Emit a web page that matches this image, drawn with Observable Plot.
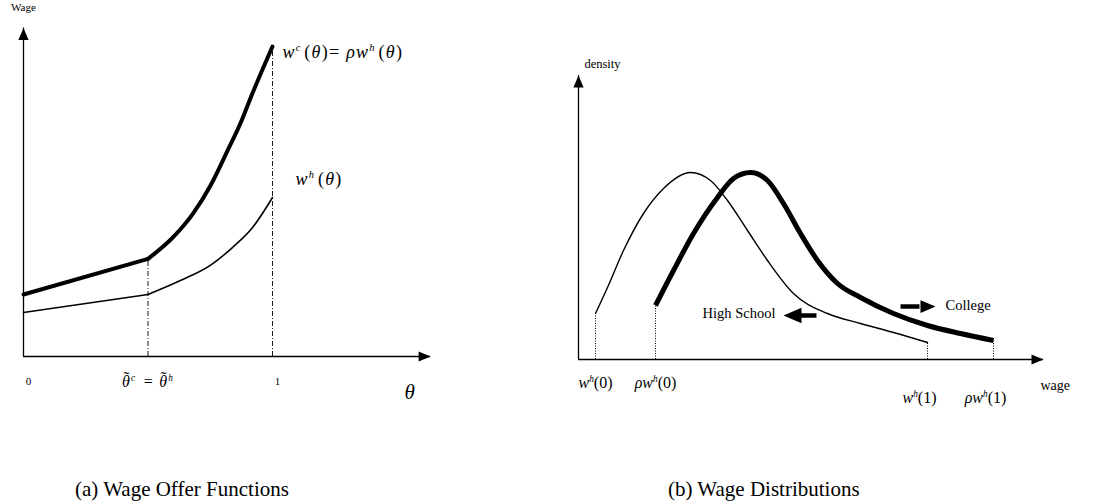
<!DOCTYPE html>
<html>
<head>
<meta charset="utf-8">
<script src="https://cdn.jsdelivr.net/npm/d3@7"></script>
<script src="https://cdn.jsdelivr.net/npm/@observablehq/plot@0.6"></script>
<style>
  body { margin: 0; background: #fff; }
  #fig { position: relative; width: 1107px; height: 504px; overflow: hidden; }
  #row { display: flex; }
  .cap { position: absolute; top: 479px; font-family: "Liberation Serif", serif; font-size: 21px; line-height: 1; color: #000; white-space: nowrap; }
</style>
</head>
<body>
<div id="fig">
  <div id="row"></div>
  <div class="cap" style="left:75px">(a) Wage Offer Functions</div>
  <div class="cap" style="left:668px">(b) Wage Distributions</div>
</div>
<script>
// ---------- Panel (a): wage offer functions over ability θ ----------
const thetaKink = 0.5;
const thetaCollege = [0, 0.5, 0.6, 0.68, 0.75, 0.82, 0.87, 0.92, 1.0];
const wageCollege  = [2.0, 3.15, 3.84, 4.6, 5.5, 6.65, 7.5, 8.5, 10.0];
const thetaHigh    = [0, 0.5, 0.63, 0.75, 0.84, 0.92, 1.0];
const wageHigh     = [1.42, 2.0, 2.45, 2.94, 3.52, 4.16, 5.13];
const thetaAxisEnd = 1.635;
const wageAxisTop  = 10.6;
const kinkLabel = "\u03b8\u0303^c = \u03b8\u0303^h";

// ---------- Panel (b): wage densities ----------
const wageHS = [0.85, 1.45, 2.25, 3.25, 4.25, 5.6, 6.6, 7.45, 8.45, 9.45, 10.75, 12.45, 14.1, 15.75, 17.45];
const densHS = [4.6, 7.2, 10.9, 14.6, 17.1, 18.7, 17.9, 15.9, 12.9, 9.9, 6.6, 4.6, 3.6, 2.7, 1.7];
const wageCol = [3.85, 4.75, 5.75, 6.95, 7.75, 8.6, 9.45, 10.25, 11.1, 11.95, 12.95, 14.1, 15.75, 17.45, 19.1, 20.75];
const densCol = [5.4, 8.9, 12.6, 16.2, 18.1, 18.7, 17.9, 15.6, 12.6, 9.9, 7.6, 6.2, 4.6, 3.4, 2.6, 1.9];
const wageAxisEnd = 23.25;
const densAxisTop = 28.4;
const endLabels = ["w^h(0)", "ρw^h(0)", "w^h(1)", "ρw^h(1)"];
const shiftLabels = ["High School", "College"];
const shiftLabelWage = [9.85, 18.35];
const shiftLabelDens = [4.6, 5.4];
const shiftArrowTail = [11.9, 16.1];
const shiftArrowTip  = [10.25, 17.85];
const shiftArrowDens = [4.4, 5.3];

// filled arrowhead, tip at the origin, pointing up
const arrowHead = {
  draw(ctx, size) {
    const r = Math.sqrt(size / Math.PI);
    ctx.moveTo(0, 0);
    ctx.lineTo(-0.85 * r, 2 * r);
    ctx.lineTo(0.85 * r, 2 * r);
    ctx.closePath();
  }
};

function segmentRows(xs, ys) {
  const rows = [];
  xs.forEach((t, i) => {
    if (t <= thetaKink) rows.push({theta: t, wage: ys[i], part: "lo"});
    if (t >= thetaKink) rows.push({theta: t, wage: ys[i], part: "hi"});
  });
  return rows;
}
const collegeRows = segmentRows(thetaCollege, wageCollege);
const highRows = segmentRows(thetaHigh, wageHigh);
const kinkRules = [
  {theta: thetaKink, wage: wageCollege[thetaCollege.indexOf(thetaKink)]},
  {theta: 1, wage: wageCollege[wageCollege.length - 1]}
];

const font = {fontFamily: "Liberation Serif", background: "white", color: "black"};
const math = {ariaDescription: "math"};
const mathWide = {ariaDescription: "math-wide"};

const left = Plot.plot({
  width: 550, height: 440, margin: 0,
  style: font,
  x: {domain: [0, 1], range: [23, 272], axis: null},
  y: {domain: [0, 10], range: [356, 46], axis: null},
  marks: [
    Plot.ruleX(kinkRules, {x: "theta", y1: 0, y2: "wage", strokeWidth: 0.9, strokeDasharray: "5,2,1,2"}),
    Plot.ruleY([0], {x1: 0, x2: thetaAxisEnd, strokeWidth: 1.3}),
    Plot.ruleX([0], {y1: 0, y2: wageAxisTop, strokeWidth: 1.3}),
    Plot.dot([{theta: thetaAxisEnd, wage: 0}], {x: "theta", y: "wage", symbol: arrowHead, r: 6, fill: "black", stroke: null, rotate: 90}),
    Plot.dot([{theta: 0, wage: wageAxisTop}], {x: "theta", y: "wage", symbol: arrowHead, r: 6, fill: "black", stroke: null, rotate: 0}),
    Plot.line(highRows, {x: "theta", y: "wage", z: "part", curve: "monotone-x", strokeWidth: 1.6}),
    Plot.line(collegeRows, {x: "theta", y: "wage", z: "part", curve: "monotone-x", strokeWidth: 4, strokeLinejoin: "round"}),
    Plot.text([{theta: 0, wage: wageAxisTop, label: "Wage"}], {x: "theta", y: "wage", text: "label", dy: -20, fontSize: 11}),
    Plot.text([{theta: 0, label: "0"}, {theta: 1, label: "1"}], {x: "theta", y: () => 0, text: "label", dx: 5, dy: 25, fontSize: 11}),
    Plot.text([{theta: thetaKink, label: kinkLabel}], {x: "theta", y: () => 0, text: "label", dy: 25, fontSize: 16, ...mathWide}),
    Plot.text([{theta: thetaAxisEnd, label: "θ"}], {x: "theta", y: () => 0, text: "label", dx: -21, dy: 36, fontSize: 21, fontStyle: "italic"}),
    Plot.text([{theta: 1, wage: wageCollege[wageCollege.length - 1], label: "w^c(θ)= ρw^h(θ)"}],
      {x: "theta", y: "wage", text: "label", textAnchor: "start", dx: 10, dy: 6, fontSize: 18, ...mathWide}),
    Plot.text([{theta: 1, wage: wageHigh[wageHigh.length - 1], label: "w^h(θ)"}],
      {x: "theta", y: "wage", text: "label", textAnchor: "start", dx: 23, dy: -18, fontSize: 18, ...mathWide})
  ]
});

const hsRows = wageHS.map((w, i) => ({wage: w, dens: densHS[i]}));
const colRows = wageCol.map((w, i) => ({wage: w, dens: densCol[i]}));
const ends = [
  {wage: wageHS[0], dens: densHS[0], label: endLabels[0], row: 0},
  {wage: wageCol[0], dens: densCol[0], label: endLabels[1], row: 0},
  {wage: wageHS[wageHS.length - 1], dens: densHS[densHS.length - 1], label: endLabels[2], row: 1},
  {wage: wageCol[wageCol.length - 1], dens: densCol[densCol.length - 1], label: endLabels[3], row: 1}
];
const pxPerWage = 20;
const headLen = 18;
const shifts = shiftLabels.map((label, i) => {
  const dir = Math.sign(shiftArrowTip[i] - shiftArrowTail[i]);
  return {
    label, lx: shiftLabelWage[i], ly: shiftLabelDens[i],
    tail: shiftArrowTail[i], tip: shiftArrowTip[i],
    shaftEnd: shiftArrowTip[i] - dir * (headLen - 2) / pxPerWage,
    y: shiftArrowDens[i], rot: dir > 0 ? 90 : -90
  };
});

const right = Plot.plot({
  width: 557, height: 440, margin: 0,
  style: font,
  x: {domain: [0, 20], range: [28, 428], axis: null},
  y: {domain: [0, 20], range: [359, 159], axis: null},
  marks: [
    Plot.ruleX(ends, {x: "wage", y1: 0, y2: "dens", strokeWidth: 1, strokeDasharray: "1,1.5"}),
    Plot.ruleY([0], {x1: 0, x2: wageAxisEnd, strokeWidth: 1.3}),
    Plot.ruleX([0], {y1: 0, y2: densAxisTop, strokeWidth: 1.3}),
    Plot.dot([{wage: wageAxisEnd, dens: 0}], {x: "wage", y: "dens", symbol: arrowHead, r: 6, fill: "black", stroke: null, rotate: 90}),
    Plot.dot([{wage: 0, dens: densAxisTop}], {x: "wage", y: "dens", symbol: arrowHead, r: 6, fill: "black", stroke: null, rotate: 0}),
    Plot.line(hsRows, {x: "wage", y: "dens", curve: "monotone-x", strokeWidth: 1.4}),
    Plot.line(colRows, {x: "wage", y: "dens", curve: "monotone-x", strokeWidth: 5, strokeLinecap: "butt"}),
    Plot.link(shifts, {x1: "tail", x2: "shaftEnd", y1: "y", y2: "y", strokeWidth: 4.5, strokeLinecap: "butt"}),
    Plot.dot(shifts.filter(d => d.rot < 0), {x: "tip", y: "y", symbol: arrowHead, r: 9, fill: "black", stroke: null, rotate: -90}),
    Plot.dot(shifts.filter(d => d.rot > 0), {x: "tip", y: "y", symbol: arrowHead, r: 7.5, fill: "black", stroke: null, rotate: 90}),
    Plot.text(shifts.slice(0, 1), {x: "lx", y: "ly", text: "label", textAnchor: "end", fontSize: 14.5}),
    Plot.text(shifts.slice(1), {x: "lx", y: "ly", text: "label", textAnchor: "start", fontSize: 14.5}),
    Plot.text([{wage: 0, dens: densAxisTop, label: "density"}], {x: "wage", y: "dens", text: "label", dx: 24, dy: -12, fontSize: 12.5}),
    Plot.text([{wage: wageAxisEnd, dens: 0, label: "wage"}], {x: "wage", y: "dens", text: "label", textAnchor: "start", dx: -3, dy: 26, fontSize: 14}),
    Plot.text(ends.filter(d => d.row === 0), {x: "wage", y: () => 0, text: "label", dy: 23, fontSize: 16, ...math}),
    Plot.text(ends.filter(d => d.row === 1), {x: "wage", y: () => 0, text: "label", dx: -8, dy: 38, fontSize: 16, ...math})
  ]
});

document.getElementById("row").append(left, right);

// set "^x" as a raised small glyph and italicise the math letters;
// a combining tilde becomes a spacing tilde laid back over the letter before it
function typeset(svg) {
  const NS = "http://www.w3.org/2000/svg";
  svg.querySelectorAll('g[aria-description^="math"] text').forEach(t => {
    const wide = t.parentNode.getAttribute("aria-description") === "math-wide";
    const src = Array.from(t.textContent);
    const fs = parseFloat(getComputedStyle(t).fontSize) || 16;
    const ls = wide ? fs * 0.07 : 0;
    t.textContent = "";
    if (wide) t.setAttribute("letter-spacing", ls.toFixed(2));
    const runs = [];
    for (let i = 0; i < src.length; i++) {
      let c = src[i], sup = false;
      if (c === "^" && i + 1 < src.length) { c = src[++i]; sup = true; }
      if (c === "\u0303") { runs.push({text: "\u02dc", tilde: true}); continue; }
      const italic = /[a-zθρ]/.test(c);
      const accentNext = (src[i + 1] || "") === "\u0303";
      const last = runs[runs.length - 1];
      if (last && !last.tilde && !last.hold && !accentNext && last.sup === sup && last.italic === italic) last.text += c;
      else runs.push({text: c, sup, italic, hold: accentNext});
    }
    let offset = 0, padX = 0, padY = 0, prev = null;
    runs.forEach(r => {
      const ts = document.createElementNS(NS, "tspan");
      ts.textContent = r.text;
      let dx = padX, dy = padY;
      padX = 0; padY = 0;
      if (r.tilde) {
        ts.setAttribute("font-size", (fs * 1.05).toFixed(1));
        t.appendChild(ts);
        const wBase = prev ? prev.getComputedTextLength() : 0;
        const wTilde = ts.getComputedTextLength();
        const lift = -0.2 * fs;
        dx += -(wBase + wTilde) / 2 - ls * 0.5 + 1;
        dy += lift;
        padX = (wBase - wTilde) / 2 + ls * 0.5 - 1;
        padY = -lift;
      } else {
        if (r.italic) ts.setAttribute("font-style", "italic");
        const target = r.sup ? -0.38 * fs : 0;
        if (target !== offset) {
          dy += target - offset;
          if (!r.sup && wide) dx += fs * 0.15;
          offset = target;
        }
        if (r.sup) ts.setAttribute("font-size", (0.58 * fs).toFixed(1));
        t.appendChild(ts);
        prev = ts;
      }
      if (dx) ts.setAttribute("dx", dx.toFixed(1));
      if (dy) ts.setAttribute("dy", dy.toFixed(1));
    });
  });
}
typeset(left);
typeset(right);
</script>
</body>
</html>
